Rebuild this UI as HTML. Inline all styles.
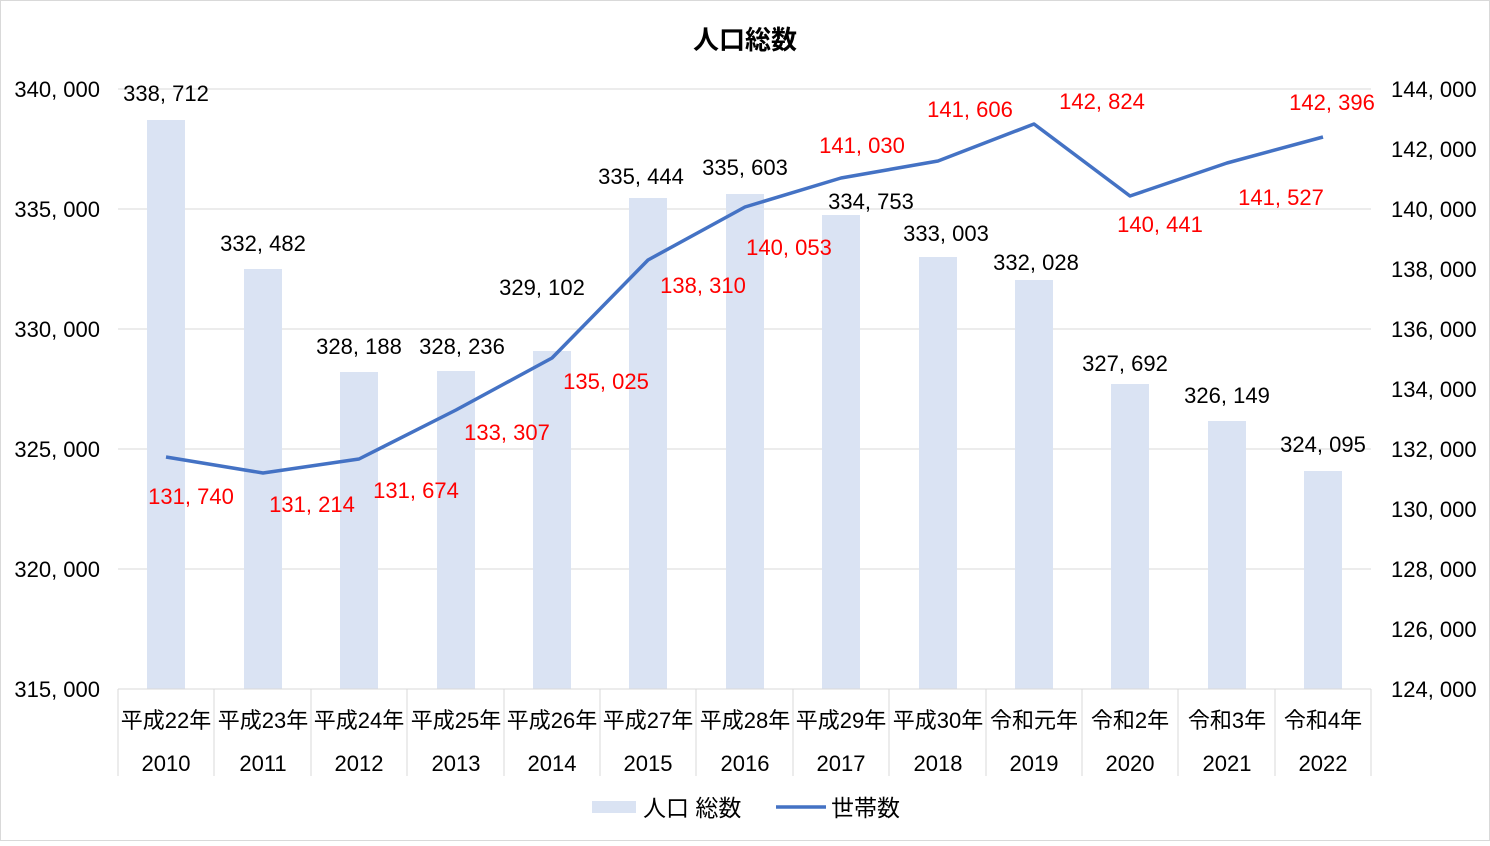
<!DOCTYPE html>
<html><head><meta charset="utf-8"><style>
html,body{margin:0;padding:0;background:#fff}
svg text{font-family:"Liberation Sans","Noto Sans CJK JP",sans-serif}
</style></head><body>
<svg width="1490" height="841" xmlns="http://www.w3.org/2000/svg">
<rect x="0.5" y="0.5" width="1489" height="840" fill="#fff" stroke="#d9d9d9"/>
<text x="745" y="49" font-size="26" font-weight="bold" text-anchor="middle" fill="#000">人口総数</text>
<g stroke="#d9d9d9" stroke-width="1">
<line x1="118" y1="89" x2="1371" y2="89"/><line x1="118" y1="209" x2="1371" y2="209"/>
<line x1="118" y1="329" x2="1371" y2="329"/><line x1="118" y1="449" x2="1371" y2="449"/>
<line x1="118" y1="569" x2="1371" y2="569"/>
</g>
<g fill="#dae3f3">
<rect x="147" y="120" width="38" height="569"/><rect x="244" y="269" width="38" height="420"/>
<rect x="340" y="372" width="38" height="317"/><rect x="437" y="371" width="38" height="318"/>
<rect x="533" y="351" width="38" height="338"/><rect x="629" y="198" width="38" height="491"/>
<rect x="726" y="194" width="38" height="495"/><rect x="822" y="215" width="38" height="474"/>
<rect x="919" y="257" width="38" height="432"/><rect x="1015" y="280" width="38" height="409"/>
<rect x="1111" y="384" width="38" height="305"/><rect x="1208" y="421" width="38" height="268"/>
<rect x="1304" y="471" width="38" height="218"/>
</g>
<g stroke="#d9d9d9">
<line x1="118" y1="689" x2="1371" y2="689"/>
<line x1="118" y1="689" x2="118" y2="776"/><line x1="214" y1="689" x2="214" y2="776"/>
<line x1="311" y1="689" x2="311" y2="776"/><line x1="407" y1="689" x2="407" y2="776"/>
<line x1="504" y1="689" x2="504" y2="776"/><line x1="600" y1="689" x2="600" y2="776"/>
<line x1="696" y1="689" x2="696" y2="776"/><line x1="793" y1="689" x2="793" y2="776"/>
<line x1="889" y1="689" x2="889" y2="776"/><line x1="986" y1="689" x2="986" y2="776"/>
<line x1="1082" y1="689" x2="1082" y2="776"/><line x1="1178" y1="689" x2="1178" y2="776"/>
<line x1="1275" y1="689" x2="1275" y2="776"/><line x1="1371" y1="689" x2="1371" y2="776"/>
</g>
<polyline fill="none" stroke="#4472c4" stroke-width="3.5" stroke-linejoin="round" points="166,457 263,473 359,459 456,410 552,358 648,260 745,207 841,178 938,161 1034,124 1130,196 1227,163 1323,137"/>
<g font-size="22" fill="#000" text-anchor="end">
<text x="100" y="97">340, 000</text><text x="100" y="217">335, 000</text>
<text x="100" y="337">330, 000</text><text x="100" y="457">325, 000</text>
<text x="100" y="577">320, 000</text><text x="100" y="697">315, 000</text>
</g>
<g font-size="22" fill="#000" text-anchor="start">
<text x="1391" y="97">144, 000</text><text x="1391" y="157">142, 000</text>
<text x="1391" y="217">140, 000</text><text x="1391" y="277">138, 000</text>
<text x="1391" y="337">136, 000</text><text x="1391" y="397">134, 000</text>
<text x="1391" y="457">132, 000</text><text x="1391" y="517">130, 000</text>
<text x="1391" y="577">128, 000</text><text x="1391" y="637">126, 000</text>
<text x="1391" y="697">124, 000</text>
</g>
<g font-size="22" fill="#000" text-anchor="middle">
<text x="166" y="101">338, 712</text><text x="263" y="251">332, 482</text>
<text x="359" y="354">328, 188</text><text x="462" y="354">328, 236</text>
<text x="542" y="295">329, 102</text><text x="641" y="184">335, 444</text>
<text x="745" y="175">335, 603</text><text x="871" y="209">334, 753</text>
<text x="946" y="241">333, 003</text><text x="1036" y="270">332, 028</text>
<text x="1125" y="371">327, 692</text><text x="1227" y="403">326, 149</text>
<text x="1323" y="452">324, 095</text>
</g>
<g font-size="22" fill="#ff0000" text-anchor="middle">
<text x="191" y="504">131, 740</text><text x="312" y="512">131, 214</text>
<text x="416" y="498">131, 674</text><text x="507" y="440">133, 307</text>
<text x="606" y="389">135, 025</text><text x="703" y="293">138, 310</text>
<text x="789" y="255">140, 053</text><text x="862" y="153">141, 030</text>
<text x="970" y="117">141, 606</text><text x="1102" y="109">142, 824</text>
<text x="1160" y="232">140, 441</text><text x="1281" y="205">141, 527</text>
<text x="1332" y="110">142, 396</text>
</g>
<g font-size="22" fill="#000" text-anchor="middle">
<text x="166" y="728">平成22年</text><text x="263" y="728">平成23年</text>
<text x="359" y="728">平成24年</text><text x="456" y="728">平成25年</text>
<text x="552" y="728">平成26年</text><text x="648" y="728">平成27年</text>
<text x="745" y="728">平成28年</text><text x="841" y="728">平成29年</text>
<text x="938" y="728">平成30年</text><text x="1034" y="728">令和元年</text>
<text x="1130" y="728">令和2年</text><text x="1227" y="728">令和3年</text>
<text x="1323" y="728">令和4年</text>
<text x="166" y="771">2010</text><text x="263" y="771">2011</text>
<text x="359" y="771">2012</text><text x="456" y="771">2013</text>
<text x="552" y="771">2014</text><text x="648" y="771">2015</text>
<text x="745" y="771">2016</text><text x="841" y="771">2017</text>
<text x="938" y="771">2018</text><text x="1034" y="771">2019</text>
<text x="1130" y="771">2020</text><text x="1227" y="771">2021</text>
<text x="1323" y="771">2022</text>
</g>
<rect x="592" y="801" width="44" height="12" fill="#dae3f3"/>
<text x="643" y="816" font-size="23" fill="#000">人口 総数</text>
<line x1="776" y1="807" x2="826" y2="807" stroke="#4472c4" stroke-width="3.5"/>
<text x="831" y="816" font-size="23" fill="#000">世帯数</text>
</svg>
</body></html>
